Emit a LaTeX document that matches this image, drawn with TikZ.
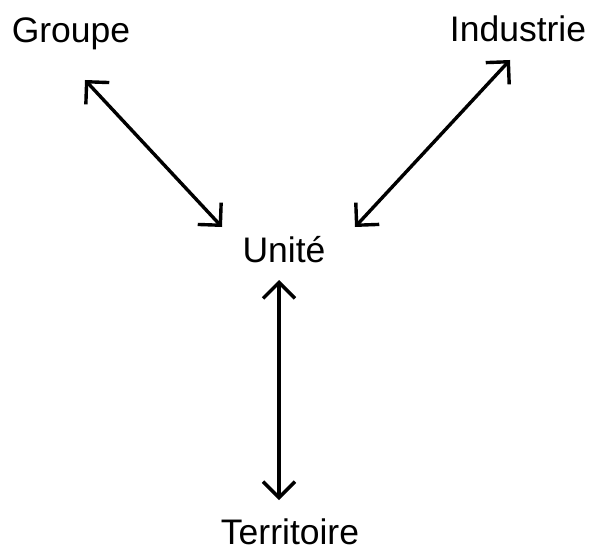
\documentclass[tikz,border=0pt]{standalone}
\usepackage{fontspec}
\setmainfont{Liberation Sans}
\usetikzlibrary{arrows.meta}
\begin{document}
\begin{tikzpicture}[x=1pt,y=-1pt,
  lbl/.style={anchor=base,inner sep=0pt,font=\fontsize{35.5}{40}\selectfont},
  link/.style={line width=3.4pt,{Straight Barb[length=16pt,width=32pt]}-{Straight Barb[length=16pt,width=32pt]}}]
\useasboundingbox (0,0) rectangle (592,551);
\node[lbl] (groupe) at (71,43) {Groupe};
\node[lbl] (industrie) at (518,42) {Industrie};
\node[lbl] (unite) at (284,262) {Unité};
\node[lbl] (territoire) at (290,544) {Territoire};
\coordinate (g1) at (85,80);
\coordinate (g2) at (222,227);
\coordinate (i1) at (510,60);
\coordinate (i2) at (355,227);
\coordinate (t1) at (279,280);
\coordinate (t2) at (279,500);
\draw[link] (g1) -- (g2);
\draw[link] (i1) -- (i2);
\draw[link] (t1) -- (t2);
\end{tikzpicture}
\end{document}
